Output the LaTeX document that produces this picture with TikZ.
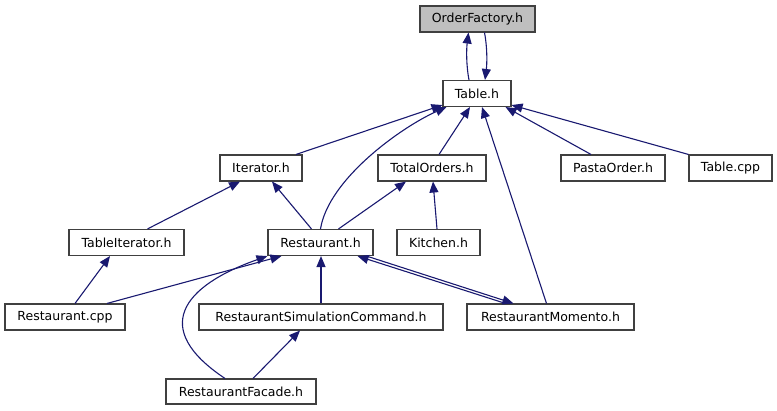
\documentclass[tikz,border=0pt]{standalone}
\usepackage{fontspec}
\setmainfont{DejaVu Sans}
\usetikzlibrary{arrows.meta}
\definecolor{edgeblue}{RGB}{25,25,112}

\begin{document}
\begin{tikzpicture}[x=1pt,y=-1pt,
  file/.style={draw=black!75,line width=1.1pt,fill=white,minimum height=26pt,inner sep=0pt,font=\fontsize{12.5}{14}\selectfont},
  dep/.style={draw=edgeblue,line width=1.1pt,-{Triangle[length=11pt,width=9pt]}}]
  \useasboundingbox (0,0) rectangle (777,411);
  %% Files, one row after the other
  \node[file,fill=black!25,minimum width=115pt] (orderfactory) at (477.5,19) {OrderFactory.h};
  \node[file,minimum width=68pt] (table) at (477,93.5) {Table.h};
  \foreach \name/\x/\w/\txt in {iterator/261/82/Iterator.h,totalorders/432/108/TotalOrders.h,
      pastaorder/613/104/PastaOrder.h,tablecpp/730.5/83/Table.cpp}{%
    \node[file,minimum width=\w pt] (\name) at (\x,168) {\txt};
  }
  \foreach \name/\x/\w/\txt in {tableiterator/126.5/115/TableIterator.h,restaurant/320.5/105/Restaurant.h,
      kitchen/438.5/83/Kitchen.h}{%
    \node[file,minimum width=\w pt] (\name) at (\x,242.5) {\txt};
  }
  \foreach \name/\x/\w/\txt in {restaurantcpp/65/120/Restaurant.cpp,simcommand/321/244/RestaurantSimulationCommand.h,
      momento/550.5/167/RestaurantMomento.h}{%
    \node[file,minimum width=\w pt] (\name) at (\x,317) {\txt};
  }
  \node[file,minimum width=150pt,minimum height=25pt] (facade) at (241,391.5) {RestaurantFacade.h};
  %% Includes, arrow on the included file
  \draw[dep] ([xshift=-8]table.north) .. controls +(-3,-16) and +(-2,16) .. ([xshift=-9]orderfactory.south);
  \draw[dep] ([xshift=7]orderfactory.south) .. controls +(3,16) and +(2,-16) .. ([xshift=8]table.north);
  \draw[dep] ([xshift=35]iterator.north) -- ([yshift=2]table.south west);
  \draw[dep] (restaurant.north) .. controls +(8,-50) and +(-45,20) .. ([xshift=4]table.south west);
  \draw[dep] ([xshift=7]totalorders.north) -- ([xshift=-7]table.south);
  \draw[dep] ([xshift=-4]momento.north) -- ([xshift=5]table.south);
  \draw[dep] ([xshift=-22]pastaorder.north) -- ([xshift=-6]table.south east);
  \draw[dep] (tablecpp.north west) -- ([yshift=2]table.south east);
  \draw[dep] ([xshift=21]tableiterator.north) -- ([xshift=-21]iterator.south);
  \draw[dep] ([xshift=-9]restaurant.north) -- ([xshift=11]iterator.south);
  \draw[dep] ([xshift=18]restaurant.north) -- ([xshift=-26]totalorders.south);
  \draw[dep] ([xshift=-1.5]kitchen.north) -- ([xshift=1]totalorders.south);
  \draw[dep] ([xshift=10]restaurantcpp.north) -- ([xshift=-16.5]tableiterator.south);
  \draw[dep] ([xshift=42]restaurantcpp.north) -- ([xshift=14]restaurant.south west);
  \draw[dep] ([xshift=-16]facade.north) .. controls +(-75,-50) and +(-85,30) .. (restaurant.south west);
  \draw[dep] (simcommand.north) -- ([xshift=0.5]restaurant.south);
  \draw[dep] ([xshift=-45]momento.north) -- ([xshift=37]restaurant.south);
  \draw[dep] ([xshift=46]restaurant.south) -- ([xshift=-37]momento.north);
  \draw[dep] ([xshift=12]facade.north) -- ([xshift=-21]simcommand.south);
\end{tikzpicture}
\end{document}
